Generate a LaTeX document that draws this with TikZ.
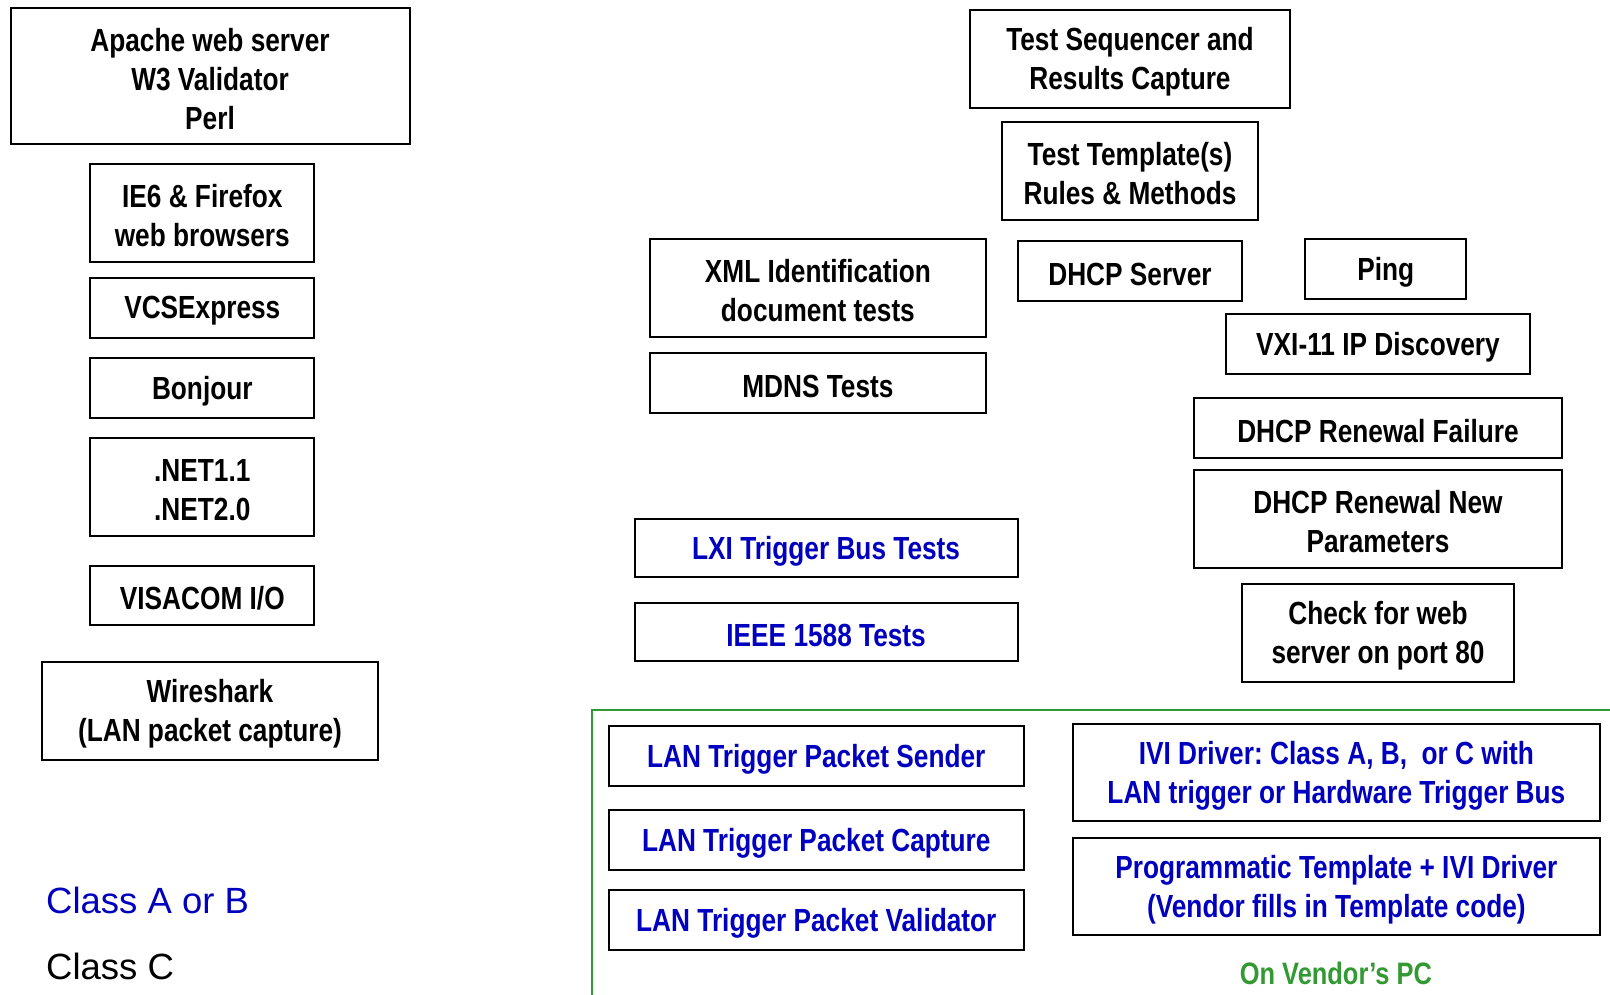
\documentclass[tikz,border=0pt]{standalone}
\usepackage{fontspec}
\setmainfont{Liberation Sans}
\newfontfamily\nb{Liberation Sans Bold}[FakeStretch=0.82]
\definecolor{tblue}{RGB}{0,0,190}
\definecolor{tgreen}{RGB}{51,153,51}
\frenchspacing
\begin{document}
\begin{tikzpicture}[x=1pt,y=-1pt,
  lab/.style={align=center, inner sep=0pt, yshift=-3pt,
    font=\nb\fontsize{32}{39}\selectfont},
  box/.style={draw=black, line width=2pt, inner sep=0pt, label={[lab]center:#1}},
  bluebox/.style={draw=black, line width=2pt, inner sep=0pt, label={[lab,text=tblue]center:#1}}]
\useasboundingbox (0,0) rectangle (1610,995);
% left column
\node[box={Apache web server\\W3 Validator\\Perl}, minimum width=399, minimum height=136] (apache) at (210,76) {};
\node[box={IE6 \& Firefox\\web browsers}, minimum width=224, minimum height=97.5] (ie) at (202.3,213) {};
\node[box={VCSExpress}, minimum width=224, minimum height=59.5] (vcs) at (202.3,308) {};
\node[box={Bonjour}, minimum width=224, minimum height=59.5] (bonjour) at (202.3,388.1) {};
\node[box={.NET1.1\\.NET2.0}, minimum width=224, minimum height=97.5] (net) at (202.3,487.2) {};
\node[box={VISACOM I/O}, minimum width=224, minimum height=59.5] (visa) at (202.3,595.5) {};
\node[box={Wireshark\\(LAN packet capture)}, minimum width=336, minimum height=97.5] (wire) at (210,711) {};
\node[anchor=west, text=tblue, font=\fontsize{36.5}{44}\selectfont, inner sep=0pt] (clab) at (46,900.5) {Class A or B};
\node[anchor=west, text=black, font=\fontsize{36.5}{44}\selectfont, inner sep=0pt] (cc) at (46,966.2) {Class C};
% right part
\node[box={Test Sequencer and\\Results Capture}, minimum width=319.4, minimum height=97.5] (seq) at (1130,59) {};
\node[box={Test Template(s)\\Rules \& Methods}, minimum width=255.6, minimum height=97.5] (tmpl) at (1130,171) {};
\node[box={XML Identification\\document tests}, minimum width=335.7, minimum height=97.5] (xml) at (817.9,288) {};
\node[box={DHCP Server}, minimum width=224.8, minimum height=59.6] (dhcps) at (1130,271.1) {};
\node[box={Ping}, minimum width=161.3, minimum height=59.6] (ping) at (1385.7,269) {};
\node[box={MDNS Tests}, minimum width=335.7, minimum height=59.6] (mdns) at (817.9,383) {};
\node[box={VXI-11 IP Discovery}, minimum width=304, minimum height=59.6] (vxi) at (1378,344) {};
\node[box={DHCP Renewal Failure}, minimum width=367.6, minimum height=59.6] (dfail) at (1378,428.2) {};
\node[box={DHCP Renewal New\\Parameters}, minimum width=367.6, minimum height=97.5] (dnew) at (1378,519) {};
\node[box={Check for web\\server on port 80}, minimum width=271.1, minimum height=97.5] (web) at (1378,633) {};
\node[bluebox={LXI Trigger Bus Tests}, minimum width=383, minimum height=58.5] (lxi) at (826.1,547.8) {};
\node[bluebox={IEEE 1588 Tests}, minimum width=383, minimum height=58.5] (ieee) at (826.1,632) {};
% vendor PC area
\draw[tgreen, line width=2pt] (1612,709.8) -- (592.3,709.8) -- (592.3,997);
\node[bluebox={LAN Trigger Packet Sender}, minimum width=414.8, minimum height=59.5] (send) at (816.3,755.8) {};
\node[bluebox={LAN Trigger Packet Capture}, minimum width=414.8, minimum height=59.5] (capt) at (816.3,839.9) {};
\node[bluebox={LAN Trigger Packet Validator}, minimum width=414.8, minimum height=59.5] (valid) at (816.3,920) {};
\node[bluebox={IVI Driver: Class A, B,\ \ or C with\\LAN trigger or Hardware Trigger Bus}, minimum width=526.8, minimum height=97.5] (ivi) at (1336.4,772.7) {};
\node[bluebox={Programmatic Template + IVI Driver\\(Vendor fills in Template code)}, minimum width=526.8, minimum height=97.5] (prog) at (1336.4,886.7) {};
\node[text=tgreen, font=\nb\fontsize{31}{36}\selectfont, inner sep=0pt] (pc) at (1335.9,973.4) {On Vendor’s PC};
\end{tikzpicture}
\end{document}
